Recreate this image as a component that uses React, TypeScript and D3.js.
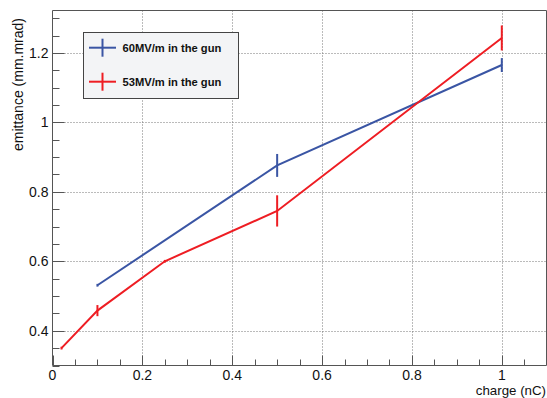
import React, { useEffect, useRef } from 'react';
import * as d3 from 'd3';

const blueCharge = [0.1, 0.5, 1.0];
const blueEmit = [0.531, 0.876, 1.165];
const blueErr = [0.004, 0.033, 0.02];

const redCharge = [0.02, 0.1, 0.25, 0.5, 1.0];
const redEmit = [0.35, 0.458, 0.6, 0.745, 1.243];
const redErr = [0.004, 0.016, 0.004, 0.045, 0.036];

const xTicks = [0, 0.2, 0.4, 0.6, 0.8, 1];
const yTicks = [0.4, 0.6, 0.8, 1, 1.2];
const legendLabels = ['60MV/m in the gun', '53MV/m in the gun'];

const W = 547;
const H = 398;

export default function App() {
  const ref = useRef<SVGSVGElement>(null);

  useEffect(() => {
    const svg = d3.select(ref.current);
    svg.selectAll('*').remove();

    const left = 52.5, right = 546.5, top = 10.5, bottom = 365.5;
    const x = d3.scaleLinear().domain([0, 1.1]).range([left, left + 449.3 * 1.1]);
    const y = d3.scaleLinear().domain([0.3, 1.322]).range([bottom, top]);
    const font = 'Liberation Sans, Arial, sans-serif';

    svg.append('rect').attr('width', W).attr('height', H).attr('fill', '#fff');

    // grid
    const grid = svg.append('g').attr('stroke', '#777').attr('stroke-width', 1).attr('stroke-dasharray', '1,2');
    grid.selectAll('.gx').data(xTicks.filter(d => d > 0)).enter().append('line')
      .attr('x1', d => Math.round(x(d)) + 0.5).attr('x2', d => Math.round(x(d)) + 0.5)
      .attr('y1', top).attr('y2', bottom);
    grid.selectAll('.gy').data(yTicks).enter().append('line')
      .attr('y1', d => Math.round(y(d)) + 0.5).attr('y2', d => Math.round(y(d)) + 0.5)
      .attr('x1', left).attr('x2', right);

    // ticks (inside)
    const xMinor = d3.range(0, 1.1001, 0.05);
    const yMinor = d3.range(0.3, 1.3201, 0.05);
    const tk = svg.append('g').attr('stroke', '#555').attr('stroke-width', 1);
    tk.selectAll('.tx').data(xMinor).enter().append('line')
      .attr('x1', d => Math.round(x(d)) + 0.5).attr('x2', d => Math.round(x(d)) + 0.5)
      .attr('y1', bottom)
      .attr('y2', (d, i) => bottom - (i % 4 === 0 ? 10 : 6));
    tk.selectAll('.ty').data(yMinor).enter().append('line')
      .attr('y1', d => Math.round(y(d)) + 0.5).attr('y2', d => Math.round(y(d)) + 0.5)
      .attr('x1', left)
      .attr('x2', (d, i) => left + ((i - 2) % 4 === 0 ? 12 : 7));

    // frame
    svg.append('path')
      .attr('d', `M${left},${top}H${right}V${bottom}H${left}Z`)
      .attr('fill', 'none').attr('stroke', '#555').attr('stroke-width', 1);

    // tick labels
    svg.selectAll('.xl').data(xTicks).enter().append('text')
      .attr('x', d => x(d)).attr('y', 379.5)
      .attr('text-anchor', 'middle').attr('font-family', font).attr('font-size', 14)
      .attr('fill', '#111').text(d => String(d));
    svg.selectAll('.yl').data(yTicks).enter().append('text')
      .attr('x', 48.5).attr('y', d => y(d) + 5)
      .attr('text-anchor', 'end').attr('font-family', font).attr('font-size', 14)
      .attr('fill', '#111').text(d => String(d));

    // axis titles
    svg.append('text').attr('x', 546).attr('y', 395.3)
      .attr('text-anchor', 'end').attr('font-family', font).attr('font-size', 13.3)
      .attr('fill', '#111').text('charge (nC)');
    svg.append('text')
      .attr('transform', 'translate(23,18) rotate(-90)')
      .attr('text-anchor', 'end').attr('font-family', font).attr('font-size', 14)
      .attr('fill', '#111').text('emittance (mm.mrad)');

    const series = [
      { xs: blueCharge, ys: blueEmit, es: blueErr, color: '#3a55a4' },
      { xs: redCharge, ys: redEmit, es: redErr, color: '#ee1d23' },
    ];
    const line = d3.line<number>().x(d => d[0]).y(d => d[1]);
    series.forEach(s => {
      const pts = s.xs.map((v, i) => [x(v), y(s.ys[i])]);
      svg.append('path').attr('d', line(pts as any) as string)
        .attr('fill', 'none').attr('stroke', s.color).attr('stroke-width', 2);
      svg.selectAll(null).data(s.xs).enter().append('line')
        .attr('x1', d => x(d)).attr('x2', d => x(d))
        .attr('y1', (d, i) => y(s.ys[i] - s.es[i]))
        .attr('y2', (d, i) => y(s.ys[i] + s.es[i]))
        .attr('stroke', s.color).attr('stroke-width', 2);
    });

    // legend
    const lg = svg.append('g');
    lg.append('rect').attr('x', 83.5).attr('y', 32.5).attr('width', 155).attr('height', 66)
      .attr('fill', '#f3f4f6').attr('stroke', '#444').attr('stroke-width', 1);
    legendLabels.forEach((lab, i) => {
      const cy = 47.7 + i * 34;
      const c = series[i].color;
      lg.append('line').attr('x1', 89).attr('x2', 116).attr('y1', cy).attr('y2', cy)
        .attr('stroke', c).attr('stroke-width', 2);
      lg.append('line').attr('x1', 102.5).attr('x2', 102.5).attr('y1', cy - 9).attr('y2', cy + 9)
        .attr('stroke', c).attr('stroke-width', 2);
      lg.append('text').attr('x', 122.5).attr('y', cy + 4)
        .attr('font-family', font).attr('font-size', 11.2).attr('font-weight', 'bold')
        .attr('fill', '#111').text(lab);
    });
  }, []);

  return (
    <svg ref={ref} width={W} height={H} style={{ position: 'absolute', left: 0, top: 0 }} />
  );
}
